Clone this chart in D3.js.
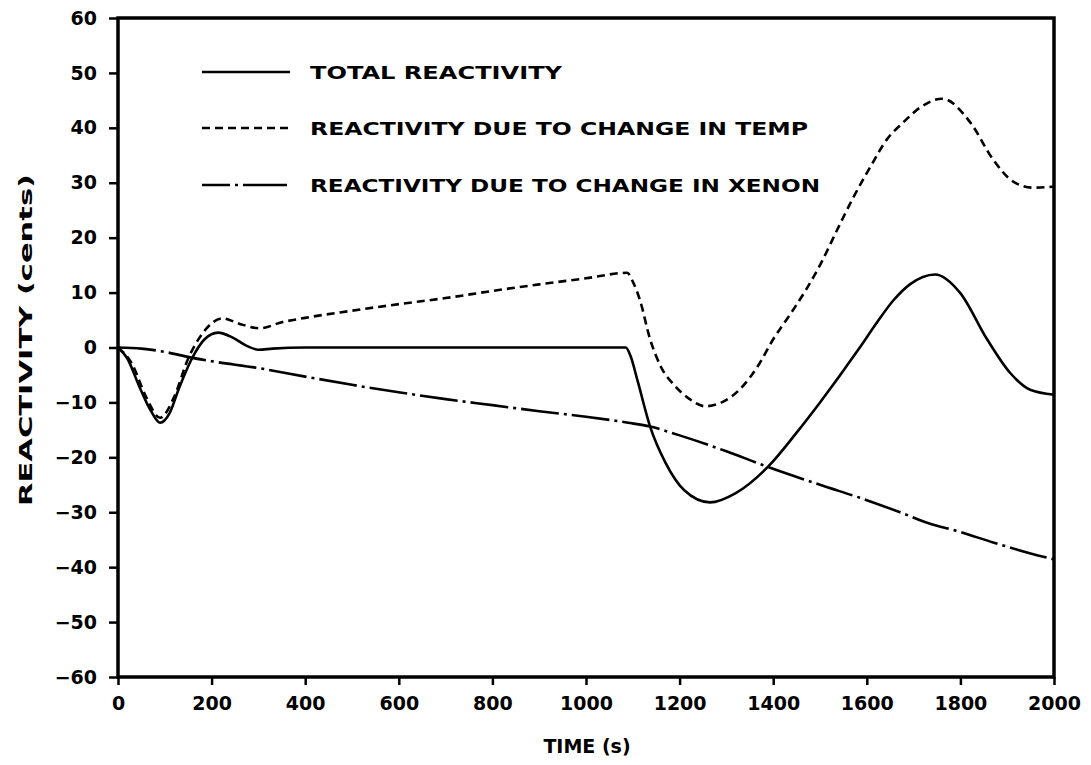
<!DOCTYPE html>
<html>
<head>
<meta charset="utf-8">
<script src="https://cdn.jsdelivr.net/npm/d3@7"></script>
<style>
  body { margin: 0; background: #fff; }
  text { font-family: "DejaVu Sans", Arial, sans-serif; font-weight: bold; fill: #000; }
</style>
</head>
<body>
<svg id="chart"></svg>
<script>
const width = 1091;
const height = 765;
const margin = { left: 118, top: 18, right: 37, bottom: 88 };

const xTicks = [0, 200, 400, 600, 800, 1000, 1200, 1400, 1600, 1800, 2000];
const yTicks = [60, 50, 40, 30, 20, 10, 0, -10, -20, -30, -40, -50, -60];

const totalTime = [0, 20, 45, 70, 90, 110, 130, 158, 185, 214, 245, 275, 300, 330, 400, 700, 1000, 1085, 1095, 1110, 1137, 1170, 1210, 1265, 1320, 1389, 1450, 1500, 1585, 1622, 1657, 1692, 1746, 1799, 1857, 1906, 1949, 2000];
const totalValue = [0, -2, -7, -11.5, -13.7, -12, -7.5, -2, 1.5, 2.7, 1.8, 0.3, -0.4, -0.2, 0, 0, 0, 0, -1.5, -6, -14.4, -21, -26, -28.2, -26.5, -21.7, -15.5, -10, 0, 4.6, 8.6, 11.5, 13.3, 10, 1.5, -4.6, -7.7, -8.6];

const tempTime = [0, 30, 60, 90, 120, 150, 180, 224, 260, 303, 350, 400, 500, 600, 700, 800, 900, 1000, 1088, 1100, 1115, 1137, 1160, 1190, 1220, 1254, 1290, 1330, 1370, 1400, 1436, 1470, 1500, 1536, 1571, 1607, 1643, 1678, 1714, 1761, 1821, 1870, 1913, 1955, 2000];
const tempValue = [0, -3, -9, -12.8, -9, -2, 2.5, 5.3, 4.3, 3.5, 4.6, 5.4, 6.7, 7.9, 9, 10.3, 11.5, 12.6, 13.6, 12, 8.7, 1.5, -3.5, -7, -9.3, -10.7, -10, -7.5, -3, 1.5, 6, 10.5, 15, 21.3, 27.3, 32.8, 37.9, 41, 43.7, 45.3, 41, 34.2, 30.2, 29.1, 29.3];

const xenonTime = [0, 50, 100, 154, 200, 297, 400, 500, 603, 700, 800, 900, 1000, 1090, 1137, 1200, 1300, 1387, 1500, 1600, 1671, 1729, 1800, 1870, 1950, 2000];
const xenonValue = [0, -0.2, -0.8, -1.8, -2.5, -3.7, -5.3, -6.8, -8.2, -9.4, -10.5, -11.6, -12.6, -13.7, -14.4, -16, -18.9, -21.7, -25, -27.8, -30, -31.9, -33.6, -35.5, -37.5, -38.6];

const seriesNames = ["TOTAL REACTIVITY", "REACTIVITY DUE TO CHANGE IN TEMP", "REACTIVITY DUE TO CHANGE IN XENON"];

const dashes = ["none", "8,5", "38,5,3,5"];
const seriesData = [
  totalTime.map((t, i) => [t, totalValue[i]]),
  tempTime.map((t, i) => [t, tempValue[i]]),
  xenonTime.map((t, i) => [t, xenonValue[i]])
];

const svg = d3.select("#chart").attr("width", width).attr("height", height);

const x = d3.scaleLinear().domain([0, 2000]).range([margin.left, width - margin.right]);
const y = d3.scaleLinear().domain([-60, 60]).range([height - margin.bottom, margin.top]);

// axes
const xAxis = svg.append("g")
  .attr("transform", `translate(0,${height - margin.bottom})`)
  .call(d3.axisBottom(x).tickValues(xTicks).tickSize(8).tickPadding(12).tickFormat(d => d));
const yAxis = svg.append("g")
  .attr("transform", `translate(${margin.left},0)`)
  .call(d3.axisLeft(y).tickValues(yTicks).tickSize(9).tickPadding(12)
    .tickFormat(d => d < 0 ? "\u2212" + Math.abs(d) : d));

[xAxis, yAxis].forEach(a => {
  a.select(".domain").remove();
  a.selectAll(".tick line").attr("stroke", "#000").attr("stroke-width", 2.5);
  a.selectAll(".tick text").style("font-size", "19px").attr("fill", "#000");
});

// frame
svg.append("rect")
  .attr("x", x(0)).attr("y", y(60))
  .attr("width", x(2000) - x(0)).attr("height", y(-60) - y(60))
  .attr("fill", "none").attr("stroke", "#000").attr("stroke-width", 3.5);

// curves
const line = d3.line()
  .x(d => x(d[0]))
  .y(d => y(d[1]))
  .curve(d3.curveMonotoneX);

svg.selectAll(".series")
  .data(seriesData)
  .join("path")
  .attr("class", "series")
  .attr("d", line)
  .attr("fill", "none")
  .attr("stroke", "#000")
  .attr("stroke-width", 2.6)
  .attr("stroke-dasharray", (d, i) => dashes[i]);

// legend
const legendRowY = [72, 128, 185];
const legendTextLen = [252, 498, 510];
const legend = svg.selectAll(".legend")
  .data(seriesNames)
  .join("g")
  .attr("class", "legend")
  .attr("transform", (d, i) => `translate(202,${legendRowY[i]})`);

legend.append("line")
  .attr("x1", 0).attr("x2", 88)
  .attr("stroke", "#000").attr("stroke-width", 2.4)
  .attr("stroke-dasharray", (d, i) => i === 2 ? "28,5,3,5,44,5,3,5" : dashes[i]);

legend.append("text")
  .attr("x", 108).attr("y", 7)
  .attr("textLength", (d, i) => legendTextLen[i])
  .attr("lengthAdjust", "spacingAndGlyphs")
  .style("font-size", "18px")
  .text(d => d);

// axis titles
svg.append("text")
  .attr("x", 587).attr("y", 753)
  .attr("text-anchor", "middle")
  .style("font-size", "19px")
  .text("TIME (s)");

svg.append("text")
  .attr("transform", "translate(32,340) rotate(-90)")
  .attr("text-anchor", "middle")
  .attr("textLength", 332)
  .attr("lengthAdjust", "spacingAndGlyphs")
  .style("font-size", "18px")
  .text("REACTIVITY (cents)");
</script>
</body>
</html>
